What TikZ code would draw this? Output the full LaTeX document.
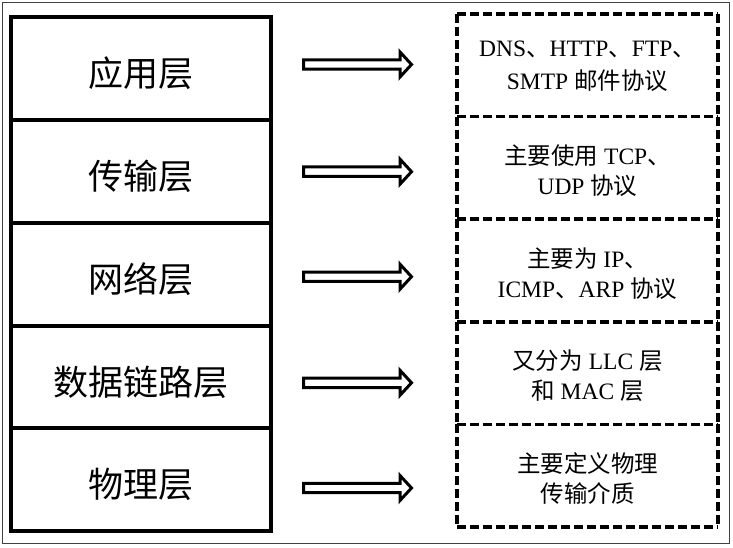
\documentclass[tikz,border=0pt]{standalone}
\usepackage{fontspec}
\setmainfont{Liberation Serif}
\newfontfamily\cjk{Noto Sans CJK SC}
\newcommand{\zh}[1]{{\cjk #1}}
\begin{document}
\begin{tikzpicture}[x=1pt,y=-1pt,
  layerbox/.style={draw, line width=4pt, minimum width=260pt, minimum height=102.8pt, inner sep=0pt},
  layertext/.style={inner sep=0pt, font=\cjk\fontsize{35}{40}\selectfont},
  protobox/.style={minimum width=261pt, minimum height=102.6pt, inner sep=0pt, outer sep=0pt},
  dashline/.style={line width=3.5pt, dash pattern=on 9pt off 4pt},
  prototext/.style={inner sep=0pt, align=center, font=\fontsize{23.5}{30}\selectfont},
  blockarrow/.pic={\draw[line width=3pt, miter limit=10, fill=white] (0,-4.7) -- (96.5,-4.7) -- (96.5,-12.5) -- (108,0) -- (96.5,12.5) -- (96.5,4.7) -- (0,4.7) -- cycle;}
]
\useasboundingbox (0,0) rectangle (733,548);
\draw[line width=1.5pt, black!75] (2.5,2.5) rectangle (729.5,543.5);

% left layer boxes
\foreach \i/\t in {0/应用层,1/传输层,2/网络层,3/数据链路层,4/物理层}{
  \node[layerbox] (L\i) at (141,{68.5+102.8*\i}) {};
  \node[layertext] (LT\i) at ([yshift=-5pt]L\i.center) {\t};
}

% right protocol boxes (dashed outlines, shared edges drawn once)
\foreach \i in {0,...,4}{
  \node[protobox] (R\i) at (587.5,{65.3+102.6*\i}) {};
  \draw[dashline] (R\i.north west) -- (R\i.south west);
  \draw[dashline] (R\i.north east) -- (R\i.south east);
  \draw[dashline] (R\i.south west) -- (R\i.south east);
}
\draw[dashline] (R0.north west) -- (R0.north east);

\node[prototext] (RT0) at ([yshift=-1pt]R0.center) {DNS\zh{、}HTTP\zh{、}FTP\zh{、}\\[3pt]SMTP \zh{邮件协议}};
\node[prototext] (RT1) at ([yshift=-3pt]R1.center) {\zh{主要使用} TCP\zh{、}\\UDP \zh{协议}};
\node[prototext] (RT2) at ([yshift=-3pt]R2.center) {\zh{主要为} IP\zh{、}\\ICMP\zh{、}ARP \zh{协议}};
\node[prototext] (RT3) at ([yshift=-3pt]R3.center) {\zh{又分为} LLC \zh{层}\\\zh{和} MAC \zh{层}};
\node[prototext] (RT4) at ([yshift=-3pt]R4.center) {\zh{主要定义物理}\\\zh{传输介质}};

% block arrows
\foreach \y [count=\k] in {64.5,171.7,276.7,382.8,488}{
  \coordinate (A\k) at (303.5,\y);
  \pic at (A\k) {blockarrow};
}
\end{tikzpicture}
\end{document}
